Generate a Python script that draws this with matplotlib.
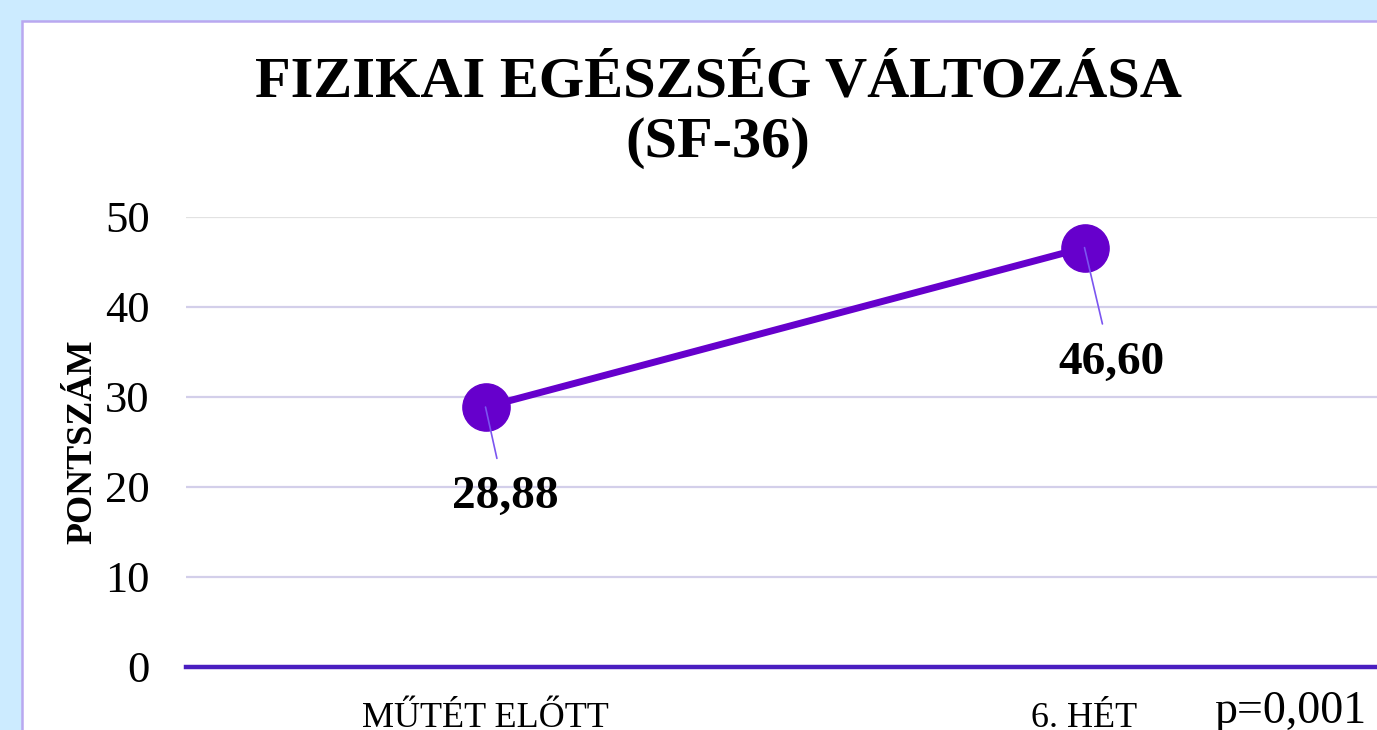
import matplotlib
matplotlib.use("Agg")
import matplotlib.pyplot as plt
from matplotlib.patches import Rectangle

categories = ["MŰTÉT ELŐTT", "6. HÉT"]
values = [28.88, 46.60]
value_labels = ["28,88", "46,60"]
y_ticks = [0, 10, 20, 30, 40, 50]
title = "FIZIKAI EGÉSZSÉG VÁLTOZÁSA\n(SF-36)"
y_label = "PONTSZÁM"
p_text = "p=0,001"

plt.rcParams['font.family'] = ['Liberation Serif', 'DejaVu Serif']

W, H = 1377, 730
fig = plt.figure(figsize=(W / 100, H / 100), dpi=100)
fig.patch.set_facecolor('#CCEBFF')

# white panel with lavender border
panel = Rectangle((22 / W, -0.05), 1.1, 1 - 21 / H + 0.05, transform=fig.transFigure,
                  facecolor='white', edgecolor='#B9A8F0', linewidth=1.8, zorder=0)
fig.add_artist(panel)

ax_left, ax_right = 186, 1384
ax_top, ax_bot = 217, 667
ax = fig.add_axes([ax_left / W, 1 - ax_bot / H, (ax_right - ax_left) / W, (ax_bot - ax_top) / H])
ax.set_facecolor('none')
ax.set_xlim(-0.5, 1.5)
ax.set_ylim(0, 50)

x = list(range(len(categories)))
for yt in y_ticks[1:-1]:
    ax.axhline(yt, color='#D3CFEA', linewidth=1.6, zorder=1)
ax.axhline(50, color='#E2E2E2', linewidth=1.6, zorder=1)
ax.axhline(0, color='#4A1EC0', linewidth=3.2, zorder=2, clip_on=False)

ax.plot(x, values, color='#6600CC', linewidth=5, marker='o', markersize=34,
        markerfacecolor='#6600CC', markeredgecolor='#6600CC', zorder=3)

offsets = [(20, -90), (27, -115)]
for xi, v, lab, (dx, dy) in zip(x, values, value_labels, offsets):
    ax.annotate(lab, xy=(xi, v), xytext=(dx * 0.72, dy * 0.72), textcoords='offset points',
                ha='center', va='center', fontsize=34, fontweight='bold', color='black',
                arrowprops=dict(arrowstyle='-', color='#7B55F0', linewidth=1.2,
                                shrinkA=11, shrinkB=0),
                zorder=4)

ax.set_yticks(y_ticks)
ax.set_yticklabels([str(t) for t in y_ticks], fontsize=32)
ax.set_xticks(x)
ax.set_xticklabels(categories, fontsize=26)
ax.tick_params(axis='both', length=0)
ax.tick_params(axis='y', pad=26)
ax.tick_params(axis='x', pad=25)
for s in ax.spines.values():
    s.set_visible(False)

ax.set_ylabel(y_label, fontsize=26, fontweight='bold', labelpad=4)

fig.text(718 / W, 1 - 113 / H, title, ha='center', va='center', fontsize=42,
         fontweight='bold', linespacing=1.2)
fig.text(1290 / W, 1 - 712 / H, p_text, ha='center', va='center', fontsize=33)

fig.savefig('out.png', dpi=100, facecolor=fig.get_facecolor())
